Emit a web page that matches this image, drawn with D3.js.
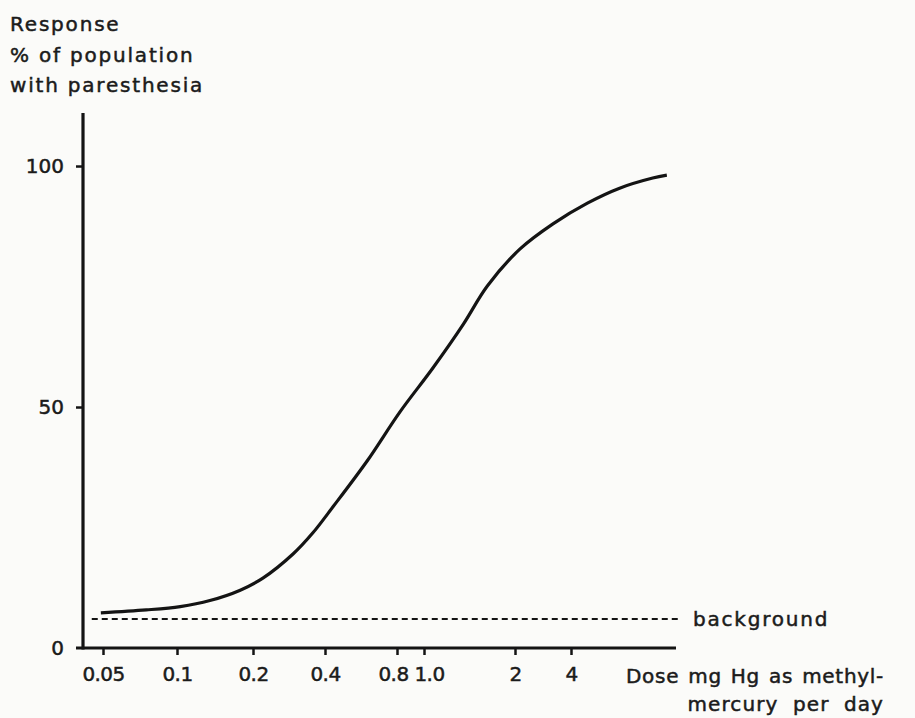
<!DOCTYPE html>
<html lang="en">
<head>
<meta charset="UTF-8">
<title>Dose-response: paresthesia vs methylmercury</title>
<script src="https://d3js.org/d3.v7.min.js"></script>
<style>
    body { margin: 0; background: #fbfbf9; }
    svg { display: block; }
    text { font-family: "DejaVu Sans", sans-serif; fill: #1b1b1b; stroke: #1b1b1b; stroke-width: 0.5px; }
</style>
</head>
<body>
<div id="chart"></div>
<script>
// data
const doseTicks = [0.05, 0.1, 0.2, 0.4, 0.8, 1.0, 2, 4];
const doseTickLabels = ["0.05", "0.1", "0.2", "0.4", "0.8", "1.0", "2", "4"];
const responseTicks = [0, 50, 100];
const curveDose = [0.049, 0.075, 0.103, 0.135, 0.178, 0.22, 0.294, 0.356, 0.432, 0.6, 0.82, 1.07, 1.35, 1.62, 2.13, 3.2, 4.9, 7.3, 11, 13.1];
const curveResponse = [7.3, 7.9, 8.6, 9.85, 12.0, 14.5, 19.5, 23.9, 29.3, 38.8, 49.0, 58.1, 67.2, 75.1, 82.8, 88.0, 92.3, 95.4, 97.5, 98.1];
const backgroundLevel = 6;
const backgroundDose = [0.045, 15];

const width = 915, height = 718;

const svg = d3.select("#chart").append("svg")
    .attr("width", width)
    .attr("height", height);

// the hand-drawn dose axis is not an even log spacing, so piecewise log
const x = d3.scaleLog()
    .domain(doseTicks)
    .range([103, 177, 253, 325, 397, 424, 515, 571]);

const y = d3.scaleLinear()
    .domain([0, 111])
    .range([648, 113]);

const ink = "#141414";

// background dashed line
svg.append("line")
    .attr("x1", x(backgroundDose[0]))
    .attr("x2", x(backgroundDose[1]))
    .attr("y1", y(backgroundLevel))
    .attr("y2", y(backgroundLevel))
    .attr("stroke", ink)
    .attr("stroke-width", 2)
    .attr("stroke-dasharray", "6,4");

svg.append("text")
    .attr("x", 693)
    .attr("y", y(backgroundLevel))
    .attr("dy", "0.35em")
    .style("font-size", "20px")
    .style("letter-spacing", "1.8px")
    .text("background");

// curve
const line = d3.line()
    .x(d => x(d[0]))
    .y(d => y(d[1]))
    .curve(d3.curveCatmullRom.alpha(0.5));

svg.append("path")
    .datum(d3.zip(curveDose, curveResponse))
    .attr("fill", "none")
    .attr("stroke", ink)
    .attr("stroke-width", 3.2)
    .attr("d", line);

// axes
const yAxis = d3.axisLeft(y)
    .tickValues(responseTicks)
    .tickSize(7)
    .tickPadding(12)
    .tickFormat(d3.format("d"));

const yg = svg.append("g")
    .attr("transform", "translate(83,0)")
    .call(yAxis);
yg.select(".domain").remove();
yg.selectAll(".tick line").attr("stroke", ink).attr("stroke-width", 2.5);
yg.selectAll(".tick text").style("font-size", "20px").attr("fill", ink);
yg.selectAll(".tick").filter(d => d === 0).select("line").remove();

svg.append("line")
    .attr("x1", 83).attr("x2", 83)
    .attr("y1", y(111)).attr("y2", y(0) + 1.5)
    .attr("stroke", ink)
    .attr("stroke-width", 3.2);

const xAxis = d3.axisBottom(x)
    .tickValues(doseTicks)
    .tickSize(7)
    .tickPadding(12)
    .tickFormat((d, i) => doseTickLabels[i]);

const xg = svg.append("g")
    .attr("transform", `translate(0,${y(0)})`)
    .call(xAxis);
xg.select(".domain").remove();
xg.selectAll(".tick line").attr("stroke", ink).attr("stroke-width", 2.5);
xg.selectAll(".tick text")
    .style("font-size", "20px")
    .style("letter-spacing", "-0.6px")
    .attr("fill", ink)
    .attr("dx", d => d === 0.8 ? -4 : d === 1.0 ? 5 : 0);

svg.append("line")
    .attr("x1", 76).attr("x2", 676)
    .attr("y1", y(0)).attr("y2", y(0))
    .attr("stroke", ink)
    .attr("stroke-width", 3.2);

// axis titles
const yTitle = ["Response", "% of population", "with paresthesia"];
svg.append("g").selectAll("text")
    .data(yTitle)
    .join("text")
    .attr("x", 10)
    .attr("y", (d, i) => 31 + i * 30.5)
    .style("font-size", "20px")
    .style("letter-spacing", "1.8px")
    .text(d => d);

const xTitle = [
    {t: "Dose mg Hg as methyl-", y: 683, ls: 0.7, ws: 2},
    {t: "mercury per day", y: 711, ls: 1.1, ws: 7}
];
svg.append("g").selectAll("text")
    .data(xTitle)
    .join("text")
    .attr("x", 884)
    .attr("y", d => d.y)
    .attr("text-anchor", "end")
    .style("font-size", "20px")
    .style("letter-spacing", d => d.ls + "px")
    .style("word-spacing", d => d.ws + "px")
    .text(d => d.t);
</script>
</body>
</html>
